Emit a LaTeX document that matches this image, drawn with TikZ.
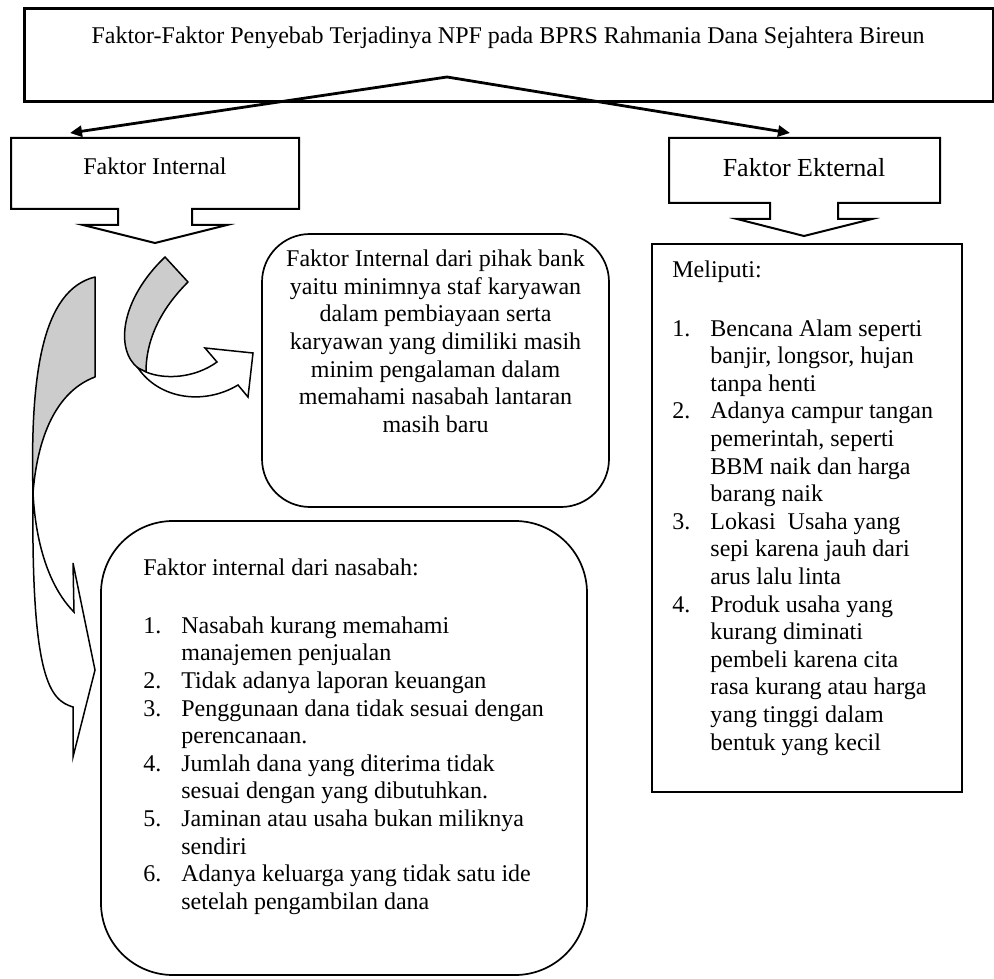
\documentclass[tikz,border=0pt]{standalone}
\usepackage{fontspec}
\setmainfont{Liberation Serif}
\usetikzlibrary{arrows.meta}
\definecolor{ribbon}{RGB}{204,204,204}
\begin{document}
\begin{tikzpicture}[x=0.5pt,y=-0.5pt,
  every node/.style={inner sep=0pt, font=\fontsize{12}{13.8}\selectfont},
  lt/.style={anchor=base west},
  ct/.style={anchor=base},
  frame/.style={draw=black, line width=1pt, line join=miter},
  rframe/.style={draw=black, line width=0.85pt},
  conn/.style={line width=1.4pt, -{Triangle[length=6pt,width=5.5pt]}},
  ribbonback/.style={draw=black, line width=0.75pt, fill=ribbon, line join=round},
  ribbonfront/.style={draw=black, line width=0.75pt, fill=white, line join=miter},
]
\useasboundingbox (0,0) rectangle (994,978);

% title
\node[draw, line width=1.3pt, minimum width=484.5pt, minimum height=46.5pt, anchor=north west] (title) at (23,7) {};
\node[ct] (titletext) at (508,44) {Faktor-Faktor Penyebab Terjadinya NPF pada BPRS Rahmania Dana Sejahtera Bireun};

\coordinate (apex) at (447,77);
\coordinate (tipL) at (70,133);
\coordinate (tipR) at (790,133);
\draw[conn] (apex) -- (tipL);
\draw[conn] (apex) -- (tipR);

% Faktor Internal callout
\draw[frame] (11,138) -- (299,138) -- (299,209) -- (192,209) -- (192,225) -- (227,225) -- (155,243) -- (83,225) -- (118,225) -- (118,209) -- (11,209) -- cycle;
\node[ct] (fi) at (155,175) {Faktor Internal};

% Faktor Ekternal callout
\draw[frame] (669,138) -- (940,138) -- (940,203) -- (838,203) -- (838,219) -- (872,219) -- (804,236) -- (737,219) -- (770,219) -- (770,203) -- (669,203) -- cycle;
\node[ct, font=\fontsize{13}{15}\selectfont] (fe) at (804,177) {Faktor Ekternal};

% boxes
\draw[frame] (652,244) rectangle (962,792);
\draw[rframe, rounded corners=24pt] (262,234) rectangle (609,507);
\draw[rframe, rounded corners=36pt] (101,521) rectangle (587,975);

% large ribbon arrow
\draw[ribbonback] (95,277) -- (95,377) .. controls (60,390) and (38,430) .. (33,493)
   .. controls (30,375) and (42,290) .. (95,277) -- cycle;
\draw[ribbonfront] (33,493) .. controls (31,680) and (50,700) .. (73,707) -- (73,757) -- (95,670) -- (73,563) -- (74,612)
   .. controls (52,590) and (36,550) .. (33,493) -- cycle;

% small ribbon arrow
\draw[ribbonback] (165,257) -- (188,282) .. controls (165,305) and (146,335) .. (146,372) -- (138,368)
   .. controls (115,350) and (120,300) .. (165,257) -- cycle;
\draw[ribbonfront] (138,368) .. controls (160,400) and (205,405) .. (238,385) -- (248,397) -- (253,353) -- (205,348) -- (217,362)
   .. controls (195,378) and (165,380) .. (146,372) -- cycle;

% bank text
\foreach \t [count=\i from 0] in {Faktor Internal dari pihak bank, yaitu minimnya staf karyawan, dalam pembiayaan serta, karyawan yang dimiliki masih, minim pengalaman dalam, memahami nasabah lantaran, masih baru}
  \node[ct] (bank\i) at (435.5,{266.7+27.6*\i}) {\t};

% Meliputi text
\node[lt] (mhead) at (672,278) {Meliputi:};
\foreach \t [count=\i from 0] in {Bencana Alam seperti, {banjir, longsor, hujan}, tanpa henti, Adanya campur tangan, {pemerintah, seperti}, BBM naik dan harga, barang naik, Lokasi\ \ Usaha yang, sepi karena jauh dari, arus lalu linta, Produk usaha yang, kurang diminati, pembeli karena cita, rasa kurang atau harga, yang tinggi dalam, bentuk yang kecil}
  \node[lt] (mline\i) at (710,{336+27.6*\i}) {\t};
\foreach \n/\k in {1/0, 2/3, 3/7, 4/10}
  \node[lt] (mnum\n) at (672,{336+27.6*\k}) {\n.};

% nasabah text
\node[lt] (nhead) at (143,575) {Faktor internal dari nasabah:};
\foreach \t [count=\i from 0] in {Nasabah kurang memahami, manajemen penjualan, Tidak adanya laporan keuangan, Penggunaan dana tidak sesuai dengan, perencanaan., Jumlah dana yang diterima tidak, sesuai dengan yang dibutuhkan., Jaminan atau usaha bukan miliknya, sendiri, Adanya keluarga yang tidak satu ide, setelah pengambilan dana}
  \node[lt] (nline\i) at (181,{633.3+27.6*\i}) {\t};
\foreach \n/\k in {1/0, 2/2, 3/3, 4/5, 5/7, 6/9}
  \node[lt] (nnum\n) at (143,{633.3+27.6*\k}) {\n.};
\end{tikzpicture}
\end{document}
